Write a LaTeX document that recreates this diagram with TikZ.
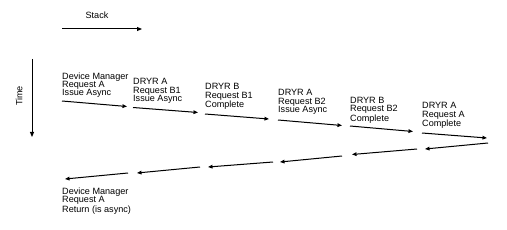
\documentclass[tikz,border=0pt]{standalone}
\usepackage{fontspec}
\setmainfont{Liberation Sans}
\usetikzlibrary{arrows.meta,positioning}
\newcommand{\lblfont}{\fontsize{9.1}{8.2}\selectfont}
\tikzset{lbl/.style={anchor=north west,inner sep=0pt,align=left,font=\lblfont},
  call/.style={line width=1pt,-{Triangle[length=4.5pt,width=3.6pt]}},
  axis/.style={line width=1pt,-{Triangle[length=5pt,width=4pt]}}}

\begin{document}
\begin{tikzpicture}[x=1pt,y=-1pt]
\useasboundingbox (0,0) rectangle (507,230);
% axes
\node[font=\lblfont,inner sep=0pt] (stack) at (97,15) {Stack};
\coordinate (s0) at (62,29);
\coordinate (s1) at (142,29);
\draw[axis] (s0) -- (s1);
\node[font=\lblfont,inner sep=0pt,rotate=90] (time) at (19,96) {Time};
\coordinate (t0) at (32,59);
\coordinate (t1) at (32,137);
\draw[axis] (t0) -- (t1);
% calls down the stack
\node[lbl] (req0) at (62,72.5) {Device Manager\\Request A\\Issue Async};
\node[lbl] (req1) at (133,78.5) {DRYR A\\Request B1\\Issue Async};
\node[lbl] (req2) at (205,83.5) {DRYR B\\Request B1\\Complete};
\node[lbl] (req3) at (278,89.5) {DRYR A\\Request B2\\Issue Async};
\node[lbl] (req4) at (350,97) {DRYR B\\Request B2\\Complete};
\node[lbl] (req5) at (422,102.5) {DRYR A\\Request A\\Complete};
\coordinate (f0s) at (62,101);   \coordinate (f0e) at (127,106.5);
\coordinate (f1s) at (133,107.5); \coordinate (f1e) at (198,112.5);
\coordinate (f2s) at (205,114);  \coordinate (f2e) at (269,119);
\coordinate (f3s) at (278,120);  \coordinate (f3e) at (342,125.5);
\coordinate (f4s) at (350,126);  \coordinate (f4e) at (413,131.5);
\coordinate (f5s) at (422,133);  \coordinate (f5e) at (487,138);
\draw[call] (f0s) -- (f0e);
\draw[call] (f1s) -- (f1e);
\draw[call] (f2s) -- (f2e);
\draw[call] (f3s) -- (f3e);
\draw[call] (f4s) -- (f4e);
\draw[call] (f5s) -- (f5e);
% returns back up
\coordinate (r0s) at (488,143);  \coordinate (r0e) at (425,149);
\coordinate (r1s) at (417,149);  \coordinate (r1e) at (352,154.5);
\coordinate (r2s) at (342,156);  \coordinate (r2e) at (280,162);
\coordinate (r3s) at (273,162);  \coordinate (r3e) at (208,167);
\coordinate (r4s) at (200,167);  \coordinate (r4e) at (137,173);
\coordinate (r5s) at (128,173);  \coordinate (r5e) at (65,179);
\draw[call] (r0s) -- (r0e);
\draw[call] (r1s) -- (r1e);
\draw[call] (r2s) -- (r2e);
\draw[call] (r3s) -- (r3e);
\draw[call] (r4s) -- (r4e);
\draw[call] (r5s) -- (r5e);
\node[lbl] (ret) at (62,188) {Device Manager\\Request A\\Return (is async)};
\end{tikzpicture}
\end{document}
